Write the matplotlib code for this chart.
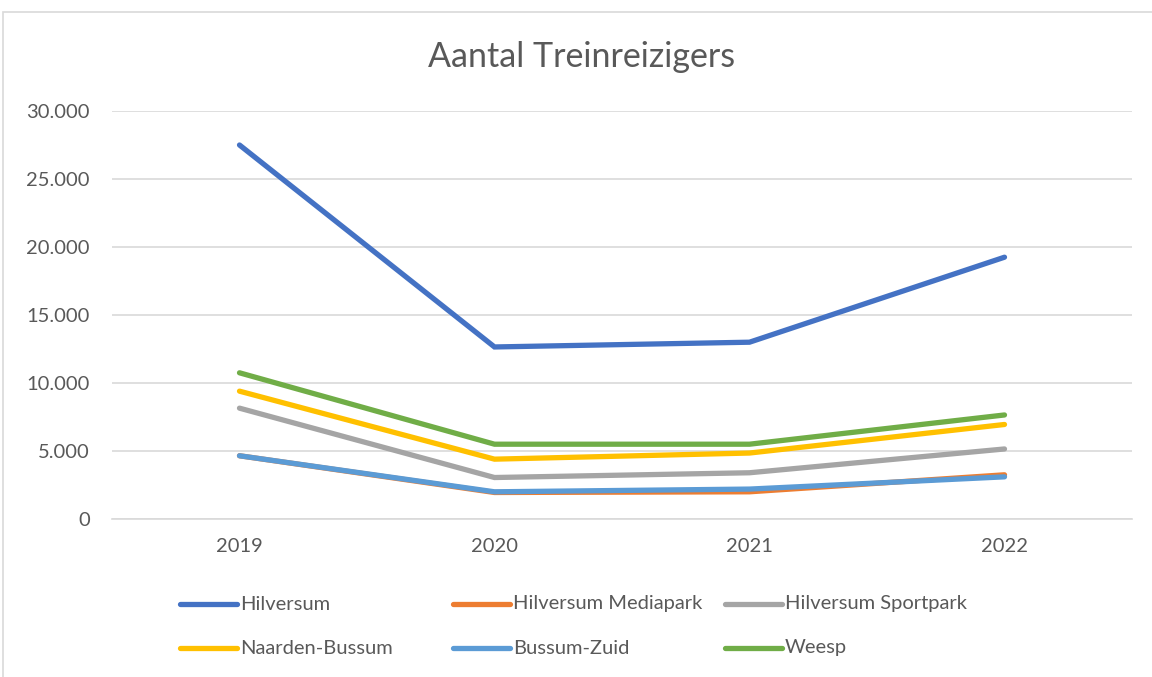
import matplotlib
matplotlib.use("Agg")
import matplotlib.pyplot as plt
from matplotlib.patches import Rectangle
from matplotlib.lines import Line2D
from matplotlib.ticker import FuncFormatter

years = ["2019", "2020", "2021", "2022"]
hilversum = [27500, 12650, 13000, 19250]
mediapark = [4650, 1950, 2000, 3250]
sportpark = [8150, 3050, 3400, 5150]
naarden_bussum = [9400, 4400, 4850, 6950]
bussum_zuid = [4650, 2000, 2200, 3100]
weesp = [10750, 5500, 5500, 7650]

series_names = ["Hilversum", "Hilversum Mediapark", "Hilversum Sportpark",
                "Naarden-Bussum", "Bussum-Zuid", "Weesp"]
series_values = [hilversum, mediapark, sportpark, naarden_bussum, bussum_zuid, weesp]
colors = ["#4472C4", "#ED7D31", "#A5A5A5", "#FFC000", "#5B9BD5", "#70AD47"]

plt.rcParams['font.family'] = ['Lato', 'DejaVu Sans']
txt = "#595959"

fig = plt.figure(figsize=(11.52, 6.77), dpi=100)
# chart border
fig.patches.append(Rectangle((3/1152, -0.01), 1.02, 1 - 12/677 + 0.01, transform=fig.transFigure,
                             fill=False, edgecolor="#D9D9D9", linewidth=1.2, zorder=0))

ax = fig.add_axes([112/1152, 1 - 519/677, (1132 - 112)/1152, (519 - 111)/677])
x = list(range(len(years)))
for name, vals, c in zip(series_names, series_values, colors):
    ax.plot(x, vals, color=c, linewidth=3.8, solid_capstyle="round",
            solid_joinstyle="miter", label=name)

ax.set_xlim(-0.5, 3.5)
ax.set_ylim(0, 30000)
ax.set_yticks(range(0, 30001, 5000))
ax.yaxis.set_major_formatter(FuncFormatter(lambda v, p: f"{int(v):,}".replace(",", ".")))
ax.set_xticks(x)
ax.set_xticklabels(years)
ax.grid(axis="y", color="#D9D9D9", linewidth=1.2)
ax.set_axisbelow(True)
for s in ["top", "right", "left"]:
    ax.spines[s].set_visible(False)
ax.spines["bottom"].set_color("#D9D9D9")
ax.spines["bottom"].set_linewidth(1.2)
ax.tick_params(axis="both", length=0, labelsize=14.5, labelcolor=txt)
ax.tick_params(axis="y", pad=16)
ax.tick_params(axis="x", pad=14)

fig.text(582/1152, 1 - 57/677, "Aantal Treinreizigers", ha="center", va="center",
         fontsize=24.5, color=txt)

# legend
leg_pos = [(180, 604), (453, 604), (725, 604), (180, 648), (453, 648), (725, 648)]
for (lx, ly), name, c in zip(leg_pos, series_names, colors):
    fig.lines.append(Line2D([lx / 1152, (lx + 57) / 1152], [1 - ly / 677, 1 - ly / 677],
                            transform=fig.transFigure, color=c, linewidth=3.8,
                            solid_capstyle="round"))
    fig.text((lx + 60) / 1152, 1 - ly / 677, name, ha="left", va="center",
             fontsize=14.5, color=txt)

fig.savefig("out.png", dpi=100)
